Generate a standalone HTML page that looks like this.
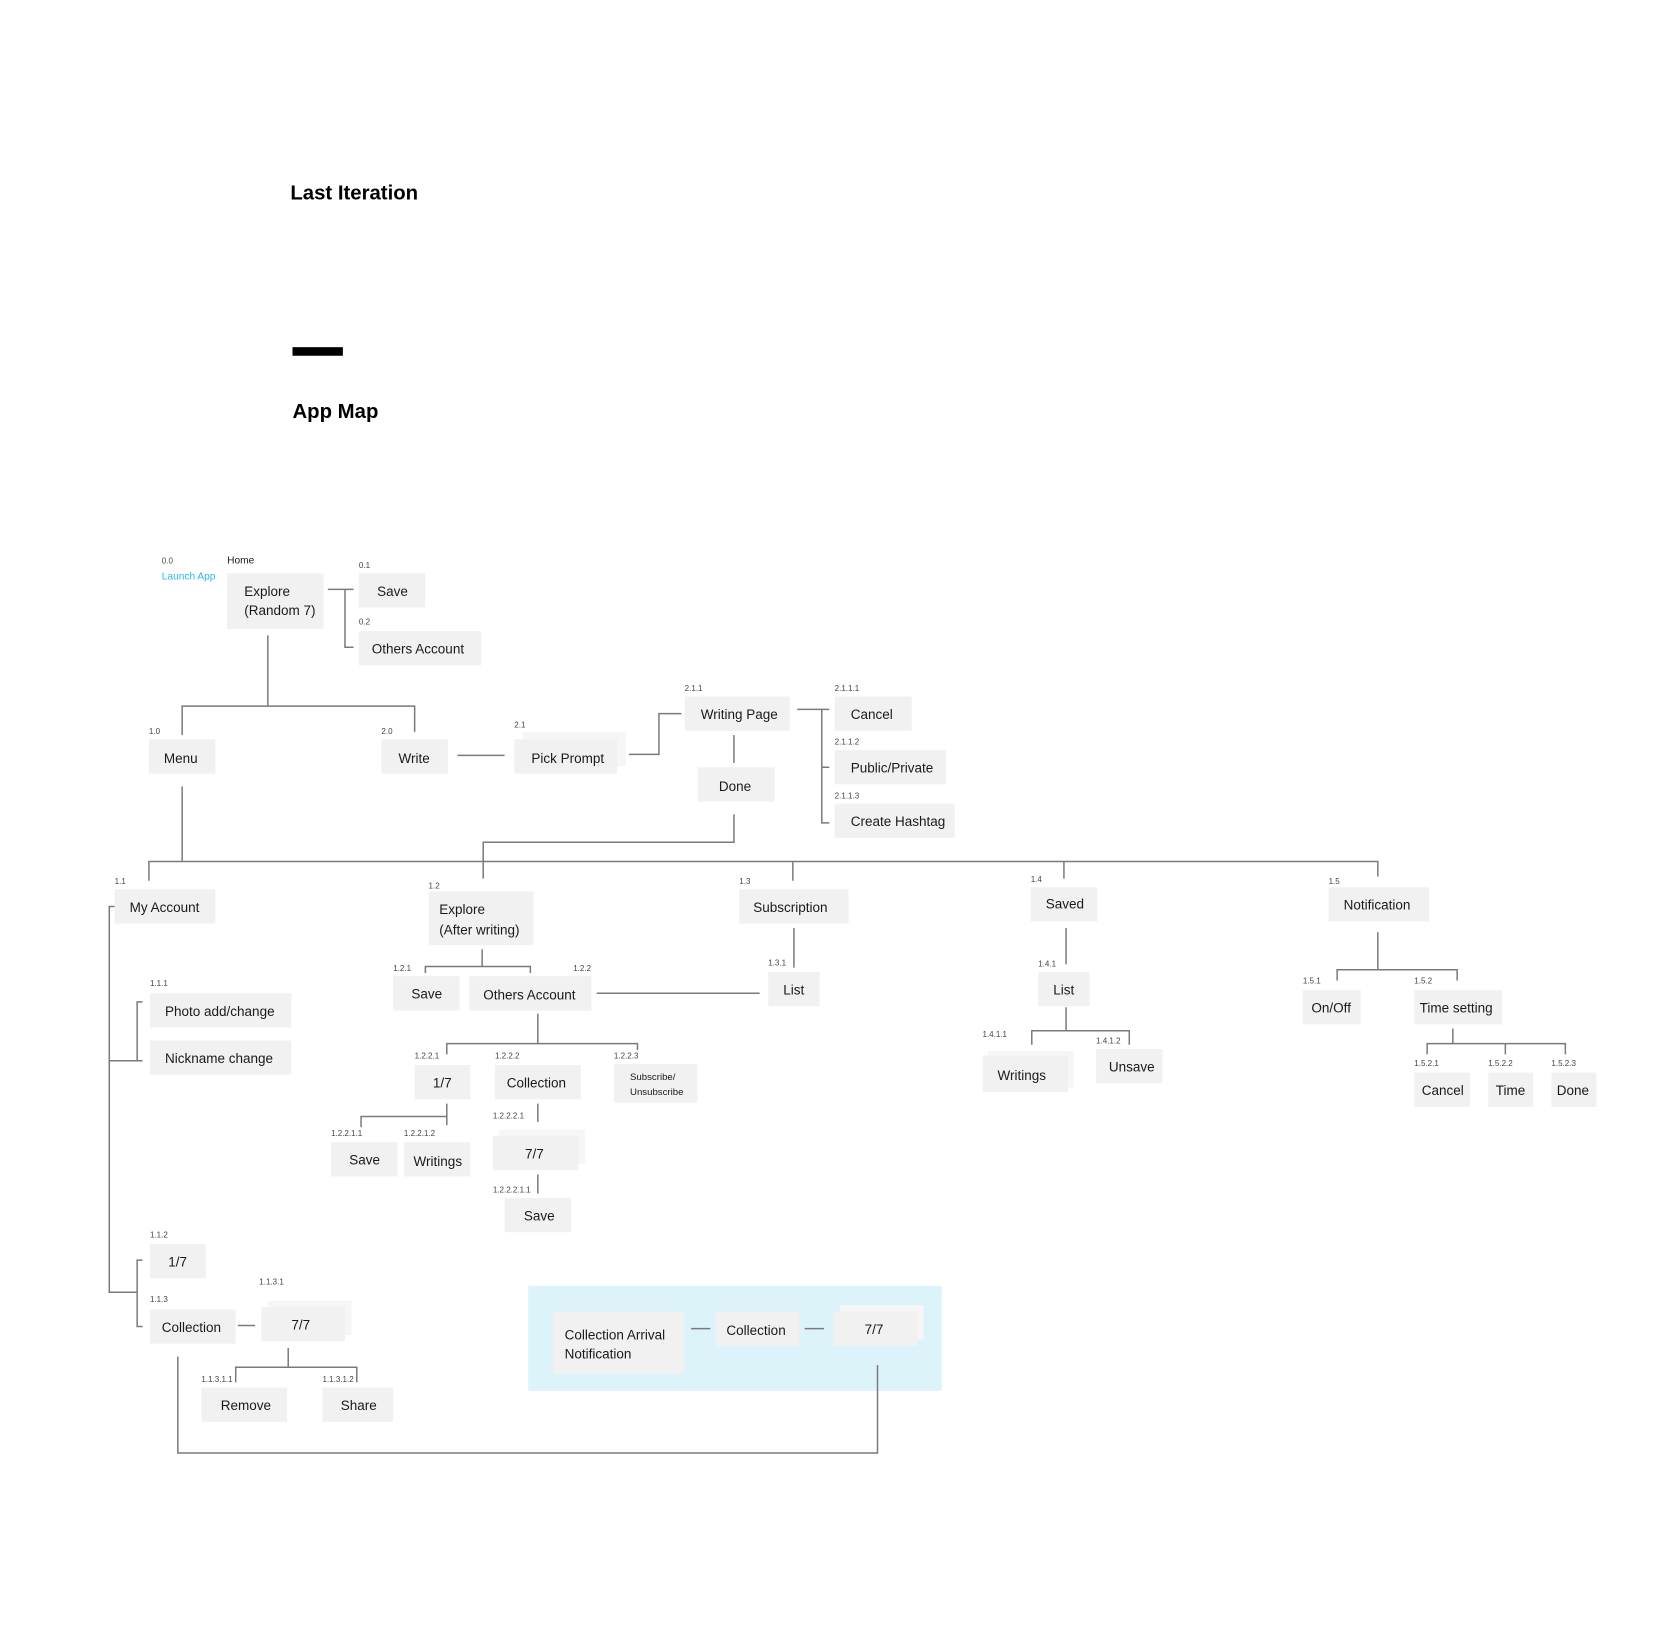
<!DOCTYPE html>
<html><head><meta charset="utf-8"><style>
html,body{margin:0;padding:0;background:#fff;}
svg{display:block;}
text{font-family:"Liberation Sans",sans-serif;fill:#1a1a1a;}
.n{font-size:12.6px;}
.l{font-size:7.5px;fill:#444;}
.h{font-size:19px;font-weight:bold;fill:#000;}
rect.b{fill:#f1f1f1;}
rect.s{fill:#f6f6f6;}
path,line{stroke:#7a7a7a;stroke-width:1.4;fill:none;}
</style></head><body>
<svg width="1680" height="1648" viewBox="0 0 1568 1538" preserveAspectRatio="none" xmlns="http://www.w3.org/2000/svg">
<text class="h" x="271" y="186">Last Iteration</text>
<rect x="273" y="324" width="47" height="8" fill="#000"/>
<text class="h" x="273" y="390">App Map</text>

<rect x="493" y="1200" width="386" height="98" fill="#dcf3fa"/>

<path d="M306 550H330M322 550V604H330"/>
<path d="M250 593V659M170 686V659H387V683"/>
<path d="M427 705H471"/>
<path d="M587 704H615V666H636"/>
<path d="M685 686V712"/>
<path d="M744 662H774M767 662V768H774M767 716H774"/>
<path d="M685 760V786H451V820"/>
<path d="M170 734V804M139 822V804H1286V818M740 804V822M993 804V820"/>
<path d="M995 866V900M995 940V962M963 975V962H1054V975"/>
<path d="M1286 870V905M1248 915V905H1360V915"/>
<path d="M1356 960V974M1332 984V974H1461V984M1405 974V984"/>
<path d="M741 866V903M557 927H709"/>
<path d="M450 886V902M397 908V902H495V908"/>
<path d="M502 946V974M417 984V974H595V980"/>
<path d="M417 1030V1050M337 1052V1042H417"/>
<path d="M502 1030V1047M502 1096V1114"/>
<path d="M107 846H102V1206H128M102 990H128M133 935H128V990H133M133 1176H128V1238H133"/>
<path d="M222 1237H238"/>
<path d="M269 1258V1276M220 1290V1276H333V1290"/>
<path d="M166 1266V1356H819V1274"/>
<path d="M645 1240H663M751 1240H769"/>

<rect class="s" x="488" y="683" width="96" height="32"/>
<rect class="s" x="922" y="981" width="80" height="34"/>
<rect class="s" x="466" y="1054" width="80" height="32"/>
<rect class="s" x="250" y="1214" width="78" height="32"/>
<rect class="s" x="784" y="1218" width="78" height="32"/>

<rect class="b" x="212" y="535" width="90" height="52"/>
<rect class="b" x="335" y="535" width="62" height="32"/>
<rect class="b" x="335" y="589" width="114" height="32"/>
<rect class="b" x="139" y="690" width="62" height="32"/>
<rect class="b" x="356" y="690" width="62" height="32"/>
<rect class="b" x="480" y="690" width="96" height="32"/>
<rect class="b" x="639" y="650" width="98" height="32"/>
<rect class="b" x="651" y="716" width="72" height="32"/>
<rect class="b" x="779" y="650" width="72" height="32"/>
<rect class="b" x="779" y="700" width="104" height="32"/>
<rect class="b" x="779" y="750" width="112" height="32"/>
<rect class="b" x="107" y="830" width="94" height="32"/>
<rect class="b" x="400" y="832" width="98" height="50"/>
<rect class="b" x="690" y="830" width="102" height="32"/>
<rect class="b" x="962" y="828" width="62" height="32"/>
<rect class="b" x="1240" y="828" width="94" height="32"/>
<rect class="b" x="969" y="907" width="48" height="32"/>
<rect class="b" x="917" y="985" width="80" height="34"/>
<rect class="b" x="1023" y="979" width="62" height="32"/>
<rect class="b" x="1216" y="924" width="54" height="32"/>
<rect class="b" x="1320" y="924" width="82" height="32"/>
<rect class="b" x="1320" y="1001" width="52" height="32"/>
<rect class="b" x="1389" y="1001" width="42" height="32"/>
<rect class="b" x="1448" y="1001" width="42" height="32"/>
<rect class="b" x="717" y="907" width="48" height="32"/>
<rect class="b" x="367" y="911" width="62" height="32"/>
<rect class="b" x="438" y="911" width="114" height="32"/>
<rect class="b" x="387" y="994" width="52" height="32"/>
<rect class="b" x="462" y="994" width="80" height="32"/>
<rect class="b" x="573" y="993" width="78" height="36"/>
<rect class="b" x="309" y="1066" width="62" height="32"/>
<rect class="b" x="377" y="1066" width="62" height="32"/>
<rect class="b" x="460" y="1060" width="80" height="32"/>
<rect class="b" x="471" y="1118" width="62" height="32"/>
<rect class="b" x="140" y="927" width="132" height="32"/>
<rect class="b" x="140" y="971" width="132" height="32"/>
<rect class="b" x="140" y="1161" width="52" height="32"/>
<rect class="b" x="140" y="1222" width="80" height="32"/>
<rect class="b" x="244" y="1220" width="78" height="32"/>
<rect class="b" x="188" y="1295" width="80" height="32"/>
<rect class="b" x="301" y="1295" width="66" height="32"/>
<rect class="b" x="516" y="1224" width="122" height="58"/>
<rect class="b" x="668" y="1224" width="78" height="32"/>
<rect class="b" x="778" y="1224" width="78" height="32"/>

<g>
<text class="n" x="228" y="556">Explore</text>
<text class="n" x="228" y="574">(Random 7)</text>
<text class="n" x="352" y="556">Save</text>
<text class="n" x="347" y="610">Others Account</text>
<text class="n" x="153" y="712">Menu</text>
<text class="n" x="372" y="712">Write</text>
<text class="n" x="496" y="712">Pick Prompt</text>
<text class="n" x="654" y="671">Writing Page</text>
<text class="n" x="671" y="738">Done</text>
<text class="n" x="794" y="671">Cancel</text>
<text class="n" x="794" y="721">Public/Private</text>
<text class="n" x="794" y="771">Create Hashtag</text>
<text class="n" x="121" y="851">My Account</text>
<text class="n" x="410" y="853">Explore</text>
<text class="n" x="410" y="872">(After writing)</text>
<text class="n" x="703" y="851">Subscription</text>
<text class="n" x="976" y="848">Saved</text>
<text class="n" x="1254" y="849">Notification</text>
<text class="n" x="983" y="928">List</text>
<text class="n" x="931" y="1008">Writings</text>
<text class="n" x="1035" y="1000">Unsave</text>
<text class="n" x="1224" y="945">On/Off</text>
<text class="n" x="1325" y="945">Time setting</text>
<text class="n" x="1327" y="1022">Cancel</text>
<text class="n" x="1396" y="1022">Time</text>
<text class="n" x="1453" y="1022">Done</text>
<text class="n" x="731" y="928">List</text>
<text class="n" x="384" y="932">Save</text>
<text class="n" x="451" y="933">Others Account</text>
<text class="n" x="404" y="1015">1/7</text>
<text class="n" x="473" y="1015">Collection</text>
<text style="font-size:9px" x="588" y="1008">Subscribe/</text>
<text style="font-size:9px" x="588" y="1022">Unsubscribe</text>
<text class="n" x="326" y="1087">Save</text>
<text class="n" x="386" y="1088">Writings</text>
<text class="n" x="490" y="1081">7/7</text>
<text class="n" x="489" y="1139">Save</text>
<text class="n" x="154" y="948">Photo add/change</text>
<text class="n" x="154" y="992">Nickname change</text>
<text class="n" x="157" y="1182">1/7</text>
<text class="n" x="151" y="1243">Collection</text>
<text class="n" x="272" y="1241">7/7</text>
<text class="n" x="206" y="1316">Remove</text>
<text class="n" x="318" y="1316">Share</text>
<text class="n" x="527" y="1250">Collection Arrival</text>
<text class="n" x="527" y="1268">Notification</text>
<text class="n" x="678" y="1246">Collection</text>
<text class="n" x="807" y="1245">7/7</text>
</g>

<text class="l" x="151" y="526">0.0</text>
<text x="151" y="541" style="font-size:9.5px;fill:#2bb5e6">Launch App</text>
<text x="212" y="526" style="font-size:9.5px">Home</text>
<text class="l" x="335" y="530">0.1</text>
<text class="l" x="335" y="583">0.2</text>
<text class="l" x="139" y="685">1.0</text>
<text class="l" x="356" y="685">2.0</text>
<text class="l" x="480" y="679">2.1</text>
<text class="l" x="639" y="645">2.1.1</text>
<text class="l" x="779" y="645">2.1.1.1</text>
<text class="l" x="779" y="695">2.1.1.2</text>
<text class="l" x="779" y="745">2.1.1.3</text>
<text class="l" x="107" y="825">1.1</text>
<text class="l" x="400" y="829">1.2</text>
<text class="l" x="690" y="825">1.3</text>
<text class="l" x="962" y="823">1.4</text>
<text class="l" x="1240" y="825">1.5</text>
<text class="l" x="969" y="902">1.4.1</text>
<text class="l" x="917" y="968">1.4.1.1</text>
<text class="l" x="1023" y="974">1.4.1.2</text>
<text class="l" x="1216" y="918">1.5.1</text>
<text class="l" x="1320" y="918">1.5.2</text>
<text class="l" x="1320" y="995">1.5.2.1</text>
<text class="l" x="1389" y="995">1.5.2.2</text>
<text class="l" x="1448" y="995">1.5.2.3</text>
<text class="l" x="717" y="901">1.3.1</text>
<text class="l" x="367" y="906">1.2.1</text>
<text class="l" x="535" y="906">1.2.2</text>
<text class="l" x="387" y="988">1.2.2.1</text>
<text class="l" x="462" y="988">1.2.2.2</text>
<text class="l" x="573" y="988">1.2.2.3</text>
<text class="l" x="309" y="1060">1.2.2.1.1</text>
<text class="l" x="377" y="1060">1.2.2.1.2</text>
<text class="l" x="460" y="1044">1.2.2.2.1</text>
<text class="l" x="460" y="1113">1.2.2.2.1.1</text>
<text class="l" x="140" y="920">1.1.1</text>
<text class="l" x="140" y="1155">1.1.2</text>
<text class="l" x="140" y="1215">1.1.3</text>
<text class="l" x="242" y="1199">1.1.3.1</text>
<text class="l" x="188" y="1290">1.1.3.1.1</text>
<text class="l" x="301" y="1290">1.1.3.1.2</text>
</svg>
</body></html>
